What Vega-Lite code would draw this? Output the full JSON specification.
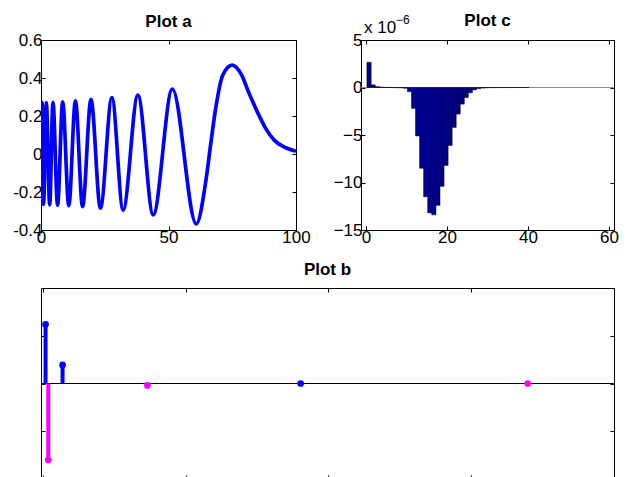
{
  "$schema": "https://vega.github.io/schema/vega-lite/v6.json",
  "background": "white",
  "padding": {"left": 12, "top": 11, "right": 5, "bottom": 0},
  "config": {
    "font": "Liberation Sans",
    "view": {"stroke": "black", "strokeWidth": 1},
    "axis": {"grid": false, "domain": false, "ticks": true, "tickColor": "black", "tickSize": -4, "tickWidth": 1, "labelFont": "Liberation Sans", "labelFontSize": 17, "labelColor": "black", "labelPadding": 3, "labelFlush": false, "labelOverlap": false, "labelBound": false},
    "title": {"font": "Liberation Sans", "fontSize": 17, "fontWeight": "bold", "color": "black", "baseline": "alphabetic", "frame": "group", "anchor": "middle"}
  },
  "spacing": 14,
  "vconcat": [
    {
      "bounds": "flush",
      "spacing": 65,
      "hconcat": [
        {
          "width": 255,
          "height": 190,
          "title": {"text": "Plot a", "offset": 0},
          "data": {"values": [
            {"x": 0, "y": -0.265}, {"x": 0.4, "y": 0.27}, {"x": 1.0, "y": -0.265}, {"x": 2.1, "y": 0.27},
            {"x": 3.4, "y": -0.268}, {"x": 4.7, "y": 0.272}, {"x": 6.5, "y": -0.27}, {"x": 8.5, "y": 0.275},
            {"x": 10.9, "y": -0.272}, {"x": 13.5, "y": 0.28}, {"x": 16.3, "y": -0.277}, {"x": 19.6, "y": 0.287},
            {"x": 23.3, "y": -0.285}, {"x": 27.8, "y": 0.297}, {"x": 32.2, "y": -0.295}, {"x": 38.0, "y": 0.31},
            {"x": 44.0, "y": -0.32}, {"x": 51.5, "y": 0.342}, {"x": 60.9, "y": -0.368}, {"x": 64.6, "y": -0.146},
            {"x": 66.5, "y": 0.047}, {"x": 68.5, "y": 0.24}, {"x": 71.3, "y": 0.416}, {"x": 75.0, "y": 0.468},
            {"x": 78.5, "y": 0.42}, {"x": 81.6, "y": 0.319}, {"x": 84.8, "y": 0.223}, {"x": 88.1, "y": 0.135},
            {"x": 91.4, "y": 0.074}, {"x": 96.0, "y": 0.033}, {"x": 100, "y": 0.014}
          ]},
          "layer": [
            {
              "mark": {"type": "line", "interpolate": "monotone", "color": "#0000ff", "strokeWidth": 3.7, "clip": true},
              "encoding": {
                "x": {"field": "x", "type": "quantitative", "scale": {"domain": [0, 100], "nice": false, "zero": false}, "axis": {"orient": "bottom", "values": [0, 50, 100]}, "title": null},
                "y": {"field": "y", "type": "quantitative", "scale": {"domain": [-0.4, 0.6], "nice": false, "zero": false}, "axis": {"orient": "left", "values": [-0.4, -0.2, 0, 0.2, 0.4, 0.6], "labelExpr": "replace(format(datum.value, '~g'), '\u2212', '-')"}, "title": null}
              }
            },
            {
              "mark": {"type": "line", "opacity": 0, "clip": true},
              "encoding": {
                "x": {"field": "x", "type": "quantitative", "axis": {"orient": "top", "values": [0, 50, 100], "labels": false}, "title": null},
                "y": {"field": "y", "type": "quantitative", "axis": {"orient": "right", "values": [-0.4, -0.2, 0, 0.2, 0.4, 0.6], "labels": false}, "title": null}
              }
            }
          ],
          "resolve": {"axis": {"x": "independent", "y": "independent"}}
        },
        {
          "width": 253,
          "height": 190,
          "title": {"text": "Plot c", "offset": -15.5},
          "data": {"values": [
            {"x": 0.75, "y": 2.65e-6}, {"x": 1.75, "y": 0.28e-6}, {"x": 2.75, "y": 0.1e-6}, {"x": 3.75, "y": 0.05e-6},
            {"x": 4.75, "y": 0.02e-6}, {"x": 5.75, "y": 0.01e-6}, {"x": 6.75, "y": -0.01e-6}, {"x": 7.75, "y": -0.02e-6},
            {"x": 8.75, "y": -0.03e-6}, {"x": 9.75, "y": -0.08e-6}, {"x": 10.75, "y": -0.44e-6}, {"x": 11.75, "y": -2.2e-6},
            {"x": 12.75, "y": -5.1e-6}, {"x": 13.75, "y": -8.5e-6}, {"x": 14.75, "y": -11.5e-6}, {"x": 15.75, "y": -13.2e-6},
            {"x": 16.75, "y": -13.4e-6}, {"x": 17.75, "y": -12.4e-6}, {"x": 18.75, "y": -10.4e-6}, {"x": 19.75, "y": -8.2e-6},
            {"x": 20.75, "y": -6.1e-6}, {"x": 21.75, "y": -4.2e-6}, {"x": 22.75, "y": -2.8e-6}, {"x": 23.75, "y": -1.75e-6},
            {"x": 24.75, "y": -1.05e-6}, {"x": 25.75, "y": -0.55e-6}, {"x": 26.75, "y": -0.25e-6}, {"x": 27.75, "y": -0.12e-6},
            {"x": 28.75, "y": -0.06e-6}, {"x": 29.75, "y": -0.03e-6}, {"x": 30.75, "y": -0.02e-6}, {"x": 31.75, "y": -0.015e-6},
            {"x": 32.75, "y": -0.01e-6}, {"x": 33.75, "y": -0.01e-6}, {"x": 34.75, "y": -0.005e-6}, {"x": 35.75, "y": -0.005e-6},
            {"x": 36.75, "y": -0.003e-6}, {"x": 37.75, "y": -0.002e-6}, {"x": 38.75, "y": -0.001e-6}, {"x": 39.75, "y": -0.001e-6}
          ]},
          "layer": [
            {
              "mark": {"type": "rule", "color": "#8c8c8c", "strokeWidth": 1},
              "encoding": {"y": {"datum": 0, "type": "quantitative", "axis": null}}
            },
            {
              "mark": {"type": "bar", "size": 4.25, "color": "#00008f", "stroke": "black", "strokeWidth": 0.5},
              "encoding": {
                "x": {"field": "x", "type": "quantitative", "scale": {"domain": [0, 60], "nice": false, "zero": false}, "axis": {"orient": "bottom", "values": [0, 20, 40, 60]}, "title": null},
                "y": {"field": "y", "type": "quantitative", "scale": {"domain": [-1.5e-5, 5e-6], "nice": false}, "axis": {"orient": "left", "values": [-1.5e-5, -1e-5, -5e-6, 0, 5e-6], "labelExpr": "format(datum.value * 1e6, 'd')"}, "title": null}
              }
            },
            {
              "data": {"values": [{"x": 0, "y": 5e-6, "t": "x 10"}]},
              "mark": {"type": "text", "align": "left", "baseline": "alphabetic", "fontSize": 17, "dx": -2, "dy": -7, "color": "black", "clip": false},
              "encoding": {
                "x": {"field": "x", "type": "quantitative", "axis": null},
                "y": {"field": "y", "type": "quantitative", "axis": null},
                "text": {"field": "t"}
              }
            },
            {
              "data": {"values": [{"x": 0, "y": 5e-6, "t": "\u22126"}]},
              "mark": {"type": "text", "align": "left", "baseline": "alphabetic", "fontSize": 12, "dx": 30, "dy": -16, "color": "black", "clip": false},
              "encoding": {
                "x": {"field": "x", "type": "quantitative", "axis": null},
                "y": {"field": "y", "type": "quantitative", "axis": null},
                "text": {"field": "t"}
              }
            },
            {
              "mark": {"type": "point", "opacity": 0},
              "encoding": {
                "x": {"field": "x", "type": "quantitative", "axis": {"orient": "top", "values": [0, 20, 40, 60], "labels": false}, "title": null},
                "y": {"field": "y", "type": "quantitative", "axis": {"orient": "right", "values": [-1.5e-5, -1e-5, -5e-6, 0, 5e-6], "labels": false}, "title": null}
              }
            }
          ],
          "resolve": {"axis": {"x": "independent", "y": "independent"}}
        }
      ]
    },
    {
      "width": 573,
      "height": 191,
      "title": {"text": "Plot b", "offset": 9},
      "data": {"values": [
        {"x": 0.02, "y": 1.24, "s": "blue"},
        {"x": 0.139, "y": 0.39, "s": "blue"},
        {"x": 1.806, "y": 0.0, "s": "blue"},
        {"x": 0.039, "y": -1.6, "s": "magenta"},
        {"x": 0.733, "y": -0.04, "s": "magenta"},
        {"x": 3.396, "y": 0.0, "s": "magenta"}
      ]},
      "layer": [
        {
          "mark": {"type": "rule", "color": "black", "strokeWidth": 1},
          "encoding": {"y": {"datum": 0, "type": "quantitative", "axis": null}}
        },
        {
          "mark": {"type": "rule", "strokeWidth": 4},
          "encoding": {
            "x": {"field": "x", "type": "quantitative", "scale": {"domain": [-0.012, 4], "nice": false, "zero": false}, "axis": {"orient": "bottom", "values": [0, 1, 2, 3, 4], "labels": false}, "title": null},
            "y": {"field": "y", "type": "quantitative", "scale": {"domain": [-2, 2], "nice": false}, "axis": {"orient": "left", "values": [-1, 0, 1], "labelExpr": "'-0.4'", "labelOpacity": 0}, "title": null},
            "y2": {"datum": 0},
            "color": {"field": "s", "type": "nominal", "scale": {"domain": ["blue", "magenta"], "range": ["#0000ff", "#ff00ff"]}, "legend": null}
          }
        },
        {
          "mark": {"type": "circle", "size": 45, "opacity": 1},
          "encoding": {
            "x": {"field": "x", "type": "quantitative", "axis": null},
            "y": {"field": "y", "type": "quantitative", "axis": null},
            "color": {"field": "s", "type": "nominal", "scale": {"domain": ["blue", "magenta"], "range": ["#0000ff", "#ff00ff"]}, "legend": null}
          }
        },
        {
          "mark": {"type": "point", "opacity": 0},
          "encoding": {
            "x": {"field": "x", "type": "quantitative", "axis": {"orient": "top", "values": [0, 1, 2, 3, 4], "labels": false}, "title": null},
            "y": {"field": "y", "type": "quantitative", "axis": {"orient": "right", "values": [-1, 0, 1], "labels": false}, "title": null}
          }
        }
      ],
      "resolve": {"axis": {"x": "independent", "y": "independent"}}
    }
  ]
}
